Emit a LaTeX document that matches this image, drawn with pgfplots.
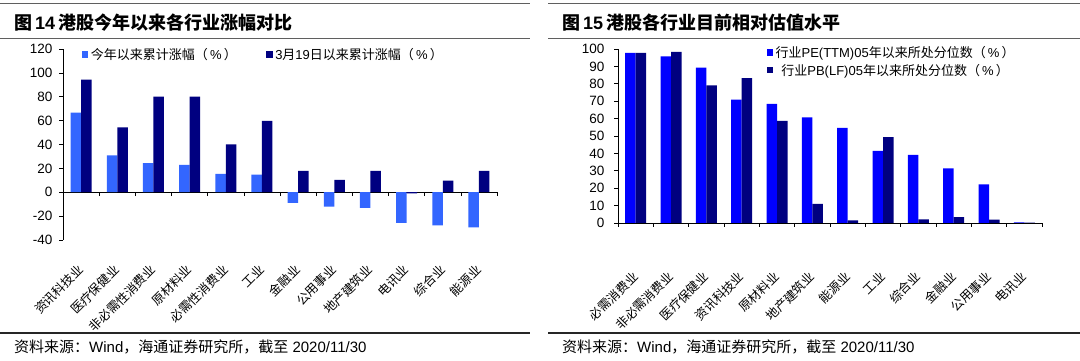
\documentclass[border=0pt]{standalone}
\usepackage{pgfplots}
\pgfplotsset{compat=1.18}
\usepackage{fontspec}
\setmainfont{Liberation Sans}
\newfontfamily\cjk{Noto Sans CJK SC}
\definecolor{lblue}{RGB}{51,102,255}
\definecolor{navy}{RGB}{0,0,128}
\definecolor{pblue}{RGB}{0,0,255}
\definecolor{rulegray}{RGB}{95,95,95}
\begin{document}
\begin{tikzpicture}[x=1pt,y=1pt]
\useasboundingbox (0,0) rectangle (1080,361);
\fill[white] (0,0) rectangle (1080,361);
% rules
\draw[rulegray, line width=1.4pt] (0,357.5) -- (530,357.5);
\draw[rulegray, line width=1.4pt] (548,357.5) -- (1080,357.5);
\draw[rulegray, line width=1.2pt] (0,322.5) -- (530,322.5);
\draw[rulegray, line width=1.2pt] (548,322.5) -- (1080,322.5);
\draw[black!85, line width=1.3pt] (0,28) -- (530,28);
\draw[black!85, line width=1.3pt] (548,28) -- (1080,28);
% titles
\node[anchor=west, inner sep=0pt] at (14,338) {\fontsize{18}{20}\selectfont{\cjk\bfseries 图}\,{\bfseries 14}\,{\cjk\bfseries 港股今年以来各行业涨幅对比}};
\node[anchor=west, inner sep=0pt] at (562,338) {\fontsize{18}{20}\selectfont{\cjk\bfseries 图}\,{\bfseries 15}\,{\cjk\bfseries 港股各行业目前相对估值水平}};
% sources
\node[anchor=west, inner sep=0pt] at (14,14) {\fontsize{15}{16}\selectfont{\cjk 资料来源：}Wind{\cjk ，海通证券研究所，截至} 2020/11/30};
\node[anchor=west, inner sep=0pt] at (562,14) {\fontsize{15}{16}\selectfont{\cjk 资料来源：}Wind{\cjk ，海通证券研究所，截至} 2020/11/30};

% ---------- left chart ----------
\begin{axis}[
  at={(63pt,121pt)}, anchor=south west,
  width=434pt, height=191pt, scale only axis,
  ymin=-40, ymax=120, ytick={-40,-20,...,120},
  xmin=-0.5, xmax=11.5,
  axis x line=middle, axis y line=left,
  axis line style={-}, x axis line style={-}, y axis line style={-},
  hide obscured x ticks=false, hide obscured y ticks=false,
  xtick={0,...,11},
  xticklabels={资讯科技业,医疗保健业,非必需性消费业,原材料业,必需性消费业,工业,金融业,公用事业,地产建筑业,电讯业,综合业,能源业},
  minor xtick={-0.5,0.5,...,11.5},
  major x tick style={draw=none},
  tick align=outside,
  major tick length=4pt, minor tick length=4pt,
  tick style={black, line width=0.6pt},
  axis line style={black, line width=0.8pt},
  xticklabel style={font=\cjk\fontsize{12.5}{13}\selectfont, rotate=45, anchor=east, inner sep=0pt},
  xticklabel shift=71pt,
  yticklabel style={font=\fontsize{13.5}{14}\selectfont},
  yticklabel shift=3pt,
  /pgf/number format/assume math mode=true,
  ybar=0pt, bar width=10.5pt,
  legend style={draw=none, fill=none, at={(0.043,0.969)}, anchor=west,
    font=\fontsize{13}{14}\selectfont, inner sep=0pt, nodes={inner sep=2.5pt},
    /tikz/every even column/.append style={column sep=27pt}},
  legend columns=2,
]
\addplot[fill=lblue, draw=none, legend image code/.code={\fill[lblue] (0pt,-3pt) rectangle (6.5pt,3.5pt);}] coordinates {
(0,66.7) (1,30.8) (2,24.4) (3,23.0) (4,15.3) (5,14.7) (6,-9.0) (7,-12.0) (8,-13.0) (9,-25.7) (10,-27.7) (11,-29.4)};
\addplot[fill=navy, draw=none, legend image code/.code={\fill[navy] (0pt,-3pt) rectangle (6.5pt,3.5pt);}] coordinates {
(0,94.4) (1,54.4) (2,80.0) (3,80.0) (4,40.0) (5,59.7) (6,17.8) (7,10.3) (8,17.8) (9,-1.0) (10,9.8) (11,18.0)};
\legend{{\cjk 今年以来累计涨幅（}\,\%\,{\cjk ）},3{\cjk 月}19{\cjk 日以来累计涨幅（}\,\%\,{\cjk ）}}
\end{axis}

% ---------- right chart ----------
\begin{axis}[
  at={(618pt,138pt)}, anchor=south west,
  width=424pt, height=174pt, scale only axis,
  ymin=0, ymax=100, ytick={0,10,...,100},
  xmin=-0.5, xmax=11.5,
  axis x line=bottom, axis y line=left,
  axis line style={-}, x axis line style={-}, y axis line style={-},
  xtick={0,...,11},
  xticklabels={必需消费业,非必需消费业,医疗保健业,资讯科技业,原材料业,地产建筑业,能源业,工业,综合业,金融业,公用事业,电讯业},
  minor xtick={-0.5,0.5,...,11.5},
  major x tick style={draw=none},
  tick align=outside,
  major tick length=4pt, minor tick length=4pt,
  tick style={black, line width=0.6pt},
  axis line style={black, line width=0.8pt},
  xticklabel style={font=\cjk\fontsize{12.5}{13}\selectfont, rotate=45, anchor=east, inner sep=0pt},
  xticklabel shift=47pt,
  yticklabel style={font=\fontsize{13.5}{14}\selectfont},
  yticklabel shift=6pt,
  /pgf/number format/assume math mode=true,
  ybar=0pt, bar width=10.5pt,
  legend style={draw=none, fill=none, at={(0.35,1.03)}, anchor=north west,
    font=\fontsize{13}{14}\selectfont, inner sep=0pt, nodes={inner sep=2.5pt}},
]
\addplot[fill=pblue, draw=none, legend image code/.code={\fill[pblue] (0pt,-3pt) rectangle (6.5pt,3.5pt);}] coordinates {
(0,97.7) (1,95.7) (2,89.3) (3,70.9) (4,68.4) (5,60.7) (6,54.7) (7,41.5) (8,39.1) (9,31.4) (10,22.2) (11,0.3)};
\addplot[fill=navy, draw=none, legend image code/.code={\fill[navy] (0pt,-3pt) rectangle (6.5pt,3.5pt);}] coordinates {
(0,97.7) (1,98.3) (2,79.1) (3,83.3) (4,58.7) (5,11.0) (6,1.5) (7,49.4) (8,2.1) (9,3.4) (10,2.0) (11,0.2)};
\legend{{\cjk 行业}PE(TTM)05{\cjk 年以来所处分位数（}\,\%\,{\cjk ）},{\cjk 行业}PB(LF)05{\cjk 年以来所处分位数（}\,\%\,{\cjk ）}}
\end{axis}
\end{tikzpicture}
\end{document}
